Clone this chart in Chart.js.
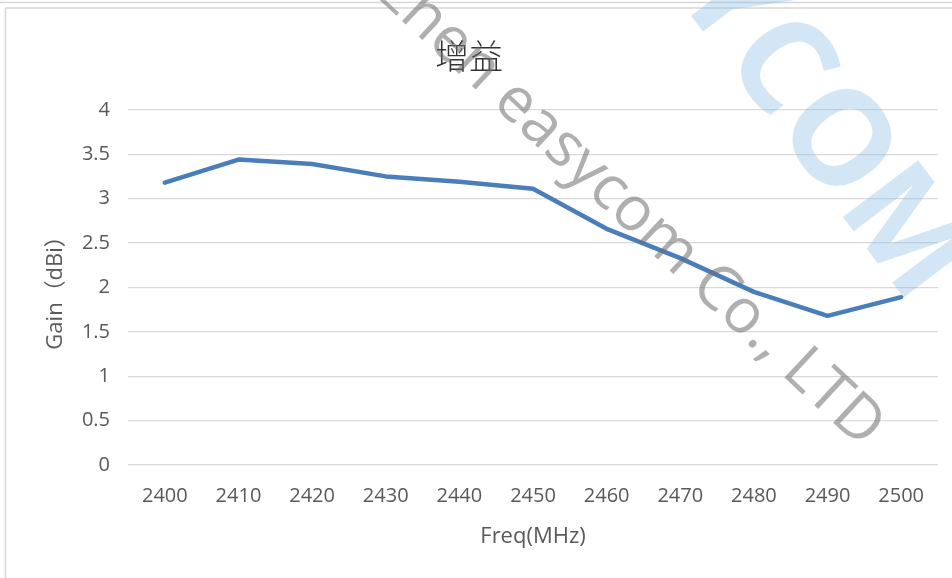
<!DOCTYPE html>
<html>
<head>
<meta charset="utf-8">
<script src="https://cdn.jsdelivr.net/npm/chart.js@4.4.0/dist/chart.umd.min.js"></script>
<style>
  html, body { margin: 0; padding: 0; background: #fff; }
  #wrap { position: relative; width: 952px; height: 578px; }
  canvas { display: block; }
</style>
</head>
<body>
<div id="wrap"><canvas id="c" width="952" height="578"></canvas></div>
<script>
// ---- data ----
const freqLabels = ['2400','2410','2420','2430','2440','2450','2460','2470','2480','2490','2500'];
const gainValues = [3.18, 3.44, 3.39, 3.25, 3.19, 3.11, 2.66, 2.33, 1.95, 1.68, 1.89];
const yTickLabels = ['0','0.5','1','1.5','2','2.5','3','3.5','4'];
const yTicksMin = 0;
const yTicksMax = 4;
const yTickStep = 0.5;
const titleText = '增益';
const xTitleText = 'Freq(MHz)';
const yTitleText = 'Gain（dBi）';
const watermarkPre = 'Shenzhen ';
const watermarkMain = 'easycom Co., LTD';
const logoPre = 'EASY';
const logoMain = 'COM';

const frameAndMarks = {
  id: 'frameAndMarks',
  beforeDraw(chart) {
    const ctx = chart.ctx;
    ctx.save();
    ctx.fillStyle = '#ffffff';
    ctx.fillRect(0, 0, chart.width, chart.height);
    ctx.strokeStyle = '#d6d6d6';
    ctx.lineWidth = 1.5;
    ctx.beginPath();
    ctx.moveTo(0, 2.5); ctx.lineTo(chart.width, 2.5);
    ctx.moveTo(5.5, 8); ctx.lineTo(chart.width, 8);
    ctx.moveTo(5.5, 8); ctx.lineTo(5.5, chart.height);
    ctx.stroke();
    ctx.restore();
  },
  afterDraw(chart) {
    const ctx = chart.ctx;
    // blue logo watermark
    ctx.save();
    ctx.translate(842, 137);
    ctx.rotate(53 * Math.PI / 180);
    const size = 132;
    ctx.font = 'bold ' + size + 'px "Open Sans"';
    ctx.fillStyle = 'rgba(140,190,228,0.38)';
    ctx.textBaseline = 'alphabetic';
    ctx.textAlign = 'left';
    const wC = ctx.measureText('C').width;
    const wCO = ctx.measureText('CO').width;
    const wPre = ctx.measureText(logoPre).width;
    const oCenter = wC + (wCO - wC) / 2;
    ctx.fillText(logoPre + logoMain, -wPre - oCenter, size * 0.36);
    ctx.restore();
    // gray text watermark
    ctx.save();
    ctx.translate(491, 104);
    ctx.rotate(43 * Math.PI / 180);
    ctx.font = '400 62px "Open Sans"';
    ctx.fillStyle = 'rgba(110,110,110,0.55)';
    ctx.textAlign = 'left';
    ctx.textBaseline = 'alphabetic';
    const wp = ctx.measureText(watermarkPre).width;
    ctx.fillText(watermarkPre + watermarkMain, -wp, 0);
    ctx.restore();
  }
};

new Chart(document.getElementById('c'), {
  type: 'line',
  data: {
    labels: freqLabels,
    datasets: [{
      data: gainValues,
      borderColor: '#4a7ebb',
      borderWidth: 4.5,
      borderCapStyle: 'round',
      borderJoinStyle: 'round',
      pointRadius: 0,
      tension: 0,
      fill: false
    }]
  },
  options: {
    responsive: false,
    animation: false,
    devicePixelRatio: 1,
    layout: { padding: { left: 0, right: 14, top: 0, bottom: 0 } },
    plugins: {
      legend: { display: false },
      tooltip: { enabled: false },
      title: {
        display: true,
        text: titleText,
        color: '#333333',
        font: { family: '"Noto Sans CJK SC"', size: 34, weight: '300' },
        padding: { top: 36, bottom: 33 }
      }
    },
    scales: {
      x: {
        offset: true,
        grid: { display: false, drawTicks: false },
        border: { display: false },
        ticks: {
          color: '#595959',
          font: { family: '"Open Sans"', size: 20 },
          padding: 19,
          maxRotation: 0
        },
        title: {
          display: true,
          text: xTitleText,
          color: '#595959',
          font: { family: '"Open Sans"', size: 22 },
          padding: { top: 0, bottom: 28 }
        },
        afterFit(scale) { scale.height = 113; }
      },
      y: {
        min: yTicksMin,
        max: yTicksMax,
        ticks: {
          stepSize: yTickStep,
          color: '#595959',
          font: { family: '"Open Sans"', size: 20 },
          padding: 18,
          callback: (v, i) => yTickLabels[i]
        },
        grid: { color: '#d9d9d9', lineWidth: 1.3, drawTicks: false },
        border: { display: false },
        title: {
          display: true,
          text: yTitleText,
          color: '#595959',
          font: { family: '"Open Sans", "Noto Sans CJK SC"', size: 22 },
          padding: { top: 43, bottom: 0 }
        },
        afterFit(scale) { scale.width = 128; }
      }
    }
  },
  plugins: [frameAndMarks]
});
</script>
</body>
</html>
